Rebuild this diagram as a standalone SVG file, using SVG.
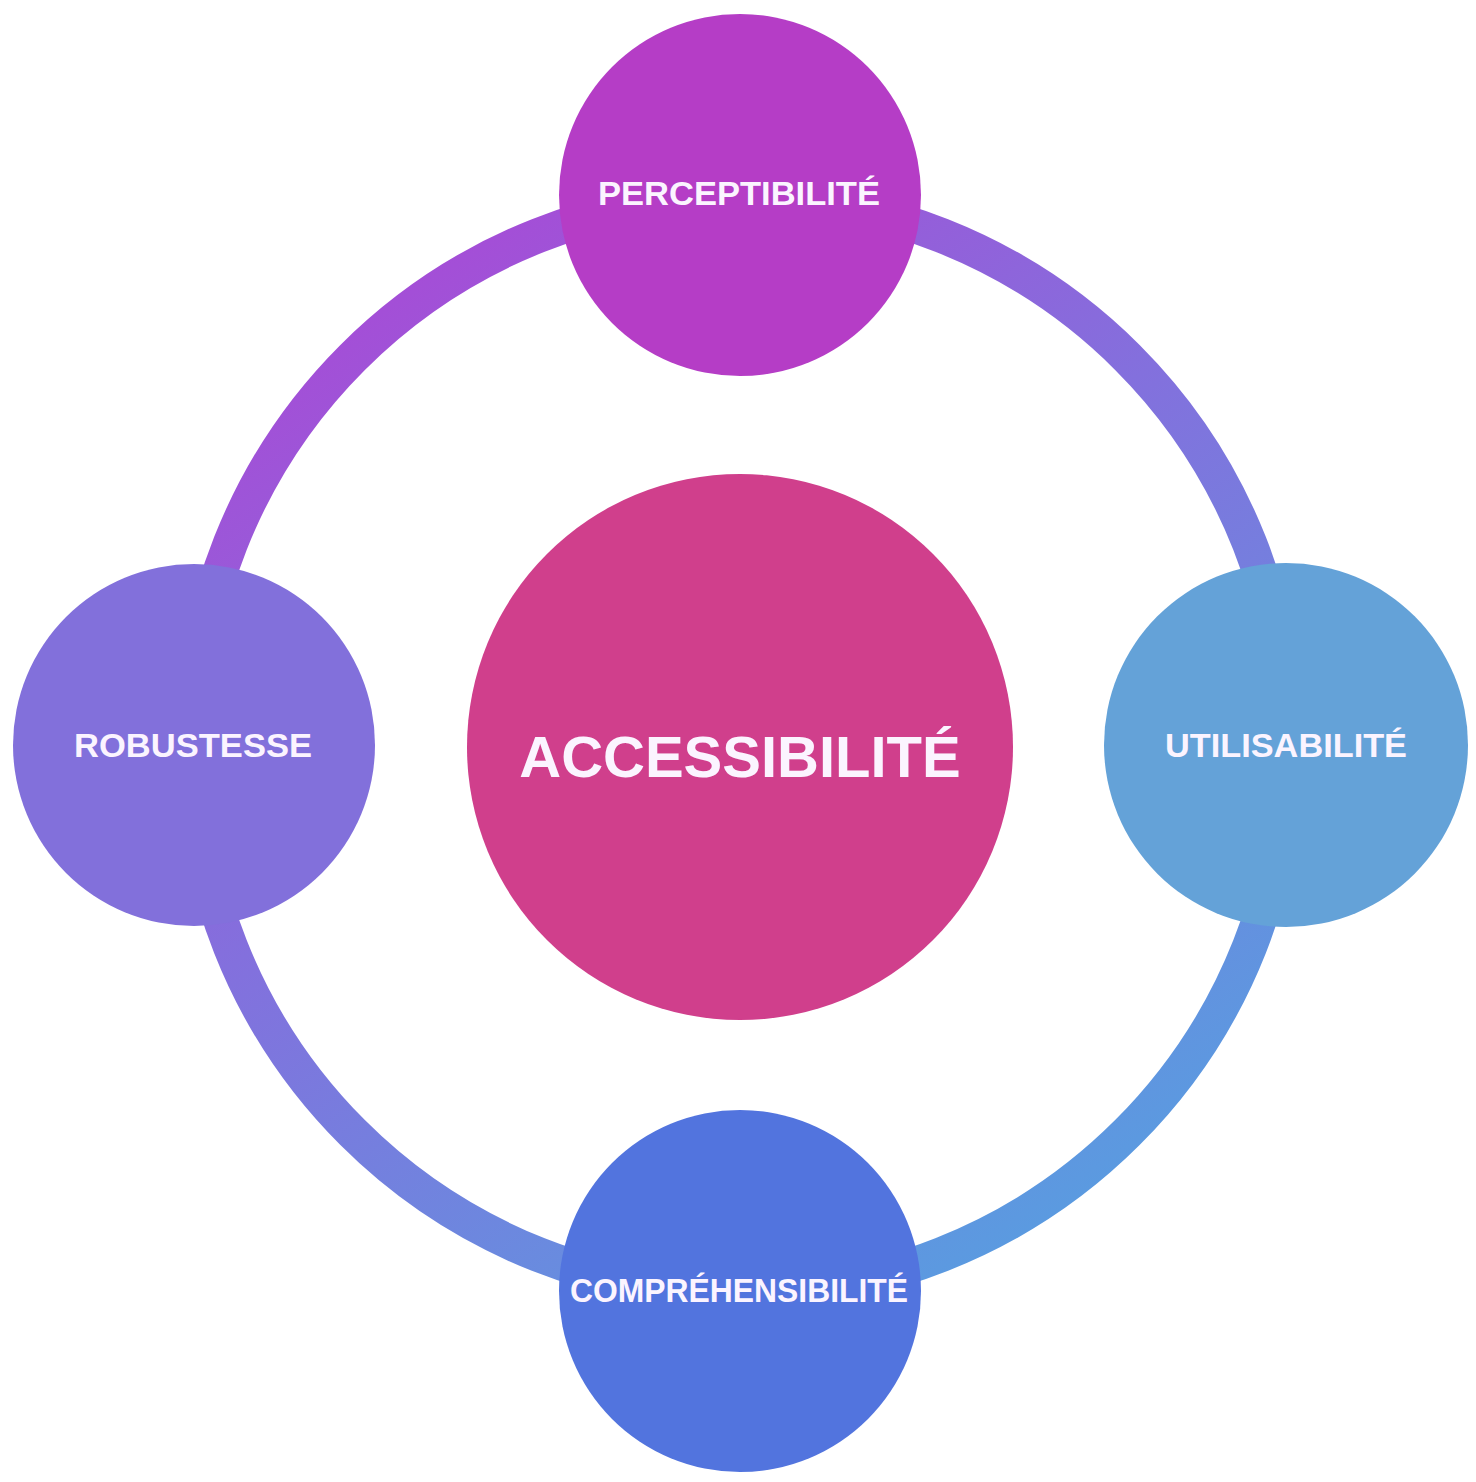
<svg xmlns="http://www.w3.org/2000/svg" width="1476" height="1482" viewBox="0 0 1476 1482">
<defs>
<linearGradient id="ringGrad" gradientUnits="userSpaceOnUse" x1="500" y1="150" x2="1150" y2="1150">
<stop offset="0" stop-color="#a84ad6"/>
<stop offset="0.45" stop-color="#8370dd"/>
<stop offset="1" stop-color="#5b9ae0"/>
</linearGradient>
</defs>
<style>
.lbl{font-family:"Liberation Sans",Arial,sans-serif;font-weight:bold;fill:#fbf4ff;text-anchor:middle}
.sm{font-size:34px}
.big{font-size:58px}
</style>
<rect x="0" y="0" width="1476" height="1482" fill="#ffffff"/>
<g id="connectors">
<circle cx="740" cy="745" r="548" fill="none" stroke="url(#ringGrad)" stroke-width="35"/>
</g>
<g id="node-accessibilite">
<circle cx="740" cy="747" r="273" fill="#d03f8c"/>
<text class="lbl big" x="740" y="777">ACCESSIBILITÉ</text>
</g>
<g id="node-perceptibilite">
<circle cx="740" cy="195" r="181" fill="#b53dc6"/>
<text class="lbl sm" x="739" y="205" textLength="282" lengthAdjust="spacingAndGlyphs">PERCEPTIBILITÉ</text>
</g>
<g id="node-robustesse">
<circle cx="194" cy="745" r="181" fill="#8270db"/>
<text class="lbl sm" x="193" y="757" textLength="238" lengthAdjust="spacingAndGlyphs">ROBUSTESSE</text>
</g>
<g id="node-utilisabilite">
<circle cx="1286" cy="745" r="182" fill="#64a2d8"/>
<text class="lbl sm" x="1286" y="757" textLength="242" lengthAdjust="spacingAndGlyphs">UTILISABILITÉ</text>
</g>
<g id="node-comprehensibilite">
<circle cx="740" cy="1291" r="181" fill="#5274de"/>
<text class="lbl sm" x="739" y="1302" textLength="338" lengthAdjust="spacingAndGlyphs">COMPRÉHENSIBILITÉ</text>
</g>
</svg>
